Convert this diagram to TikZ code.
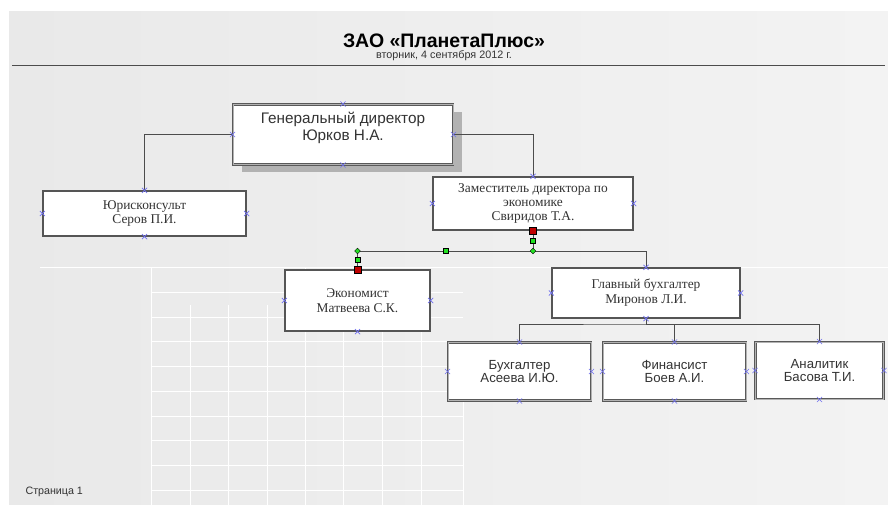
\documentclass[tikz,border=0pt]{standalone}
\usepackage{fontspec}
\setmainfont{Liberation Serif}
\setsansfont{Liberation Sans}
\usetikzlibrary{shapes.misc,shapes.geometric,shadows,calc}

\definecolor{pagegray}{HTML}{EBEBEB}
\definecolor{edgegray}{HTML}{555555}
\definecolor{wireblue}{HTML}{7070F0}
\definecolor{handlegreen}{HTML}{22E022}

\begin{document}
\begin{tikzpicture}[x=1pt,y=-1pt,
  post/.style={draw=edgegray,line width=1.3pt,fill=white,inner sep=0pt,text=black!80,
    align=center,font=\fontsize{13.4}{14.8}\selectfont},
  heavy/.style={post,draw=black!65,double=black!30,double distance=0.9pt,
    line width=0.9pt,font=\sffamily\fontsize{13.2}{13.8}\selectfont},
  conn/.style={draw=black!70,line width=0.8pt},
  cpt/.style={cross out,draw=wireblue,minimum size=4.5pt,inner sep=0pt,line width=0.6pt},
  grip/.style={rectangle,draw=black,fill=handlegreen,minimum size=5pt,inner sep=0pt,line width=0.4pt},
  pin/.style={diamond,draw=black,fill=handlegreen,minimum size=6pt,inner sep=0pt,line width=0.4pt},
  endgrip/.style={rectangle,draw=black,fill=red!75!black,minimum size=7pt,inner sep=0pt,line width=0.6pt},
  gridline/.style={draw=white,line width=1pt}
]
  \useasboundingbox (0,0) rectangle (888,505);
  \fill[white] (0,0) rectangle (888,505);
  \shade[left color=pagegray!110,right color=pagegray!60] (9,12) rectangle (888,505);

  % background grid
  \draw[gridline] (40,267) -- (888,267);
  \draw[gridline] (151,267) -- (151,505);
  \draw[gridline] (463,380) -- (463,505);
  \foreach \gy in {292,317,341,366,391,416,440,465,490}
    \draw[gridline] (151,\gy) -- (463,\gy);
  \foreach \gx in {190,228,267,343,382,421}
    \draw[gridline] (\gx,305) -- (\gx,505);
  \draw[gridline] (305,267) -- (305,505);

  % header
  \node[font=\sffamily\bfseries\fontsize{19.5}{22}\selectfont] (title) at (444,41) {ЗАО «ПланетаПлюс»};
  \node[font=\sffamily\fontsize{10.8}{12}\selectfont,text=black!80] (date) at (444,56) {вторник, 4 сентября 2012 г.};
  \draw[black!70,line width=1pt] (12,66) -- (885,66);
  \node[font=\sffamily\fontsize{10.7}{12}\selectfont,text=black!80,anchor=west] (pagenum) at (22,492) {Страница 1};

  % units
  \node[heavy,minimum width=220pt,minimum height=60pt,text depth=16pt,
    font=\sffamily\fontsize{15.3}{16.5}\selectfont,
    drop shadow={shadow xshift=9pt,shadow yshift=-8pt,fill=black!30,opacity=1}]
    (gen) at (343,134.5) {Генеральный директор\\Юрков Н.А.};
  \node[post,minimum width=203pt,minimum height=45pt] (jur) at (144.5,213.5) {Юрисконсульт\\Серов П.И.};
  \node[post,minimum width=200pt,minimum height=53pt,font=\fontsize{13.4}{14}\selectfont] (dep) at (533,203.5) {Заместитель директора по\\экономике\\Свиридов Т.А.};
  \node[post,minimum width=145pt,minimum height=61pt] (eco) at (357.5,300.5) {Экономист\\Матвеева С.К.};
  \node[post,minimum width=188pt,minimum height=50pt] (chief) at (646,293) {Главный бухгалтер\\Миронов Л.И.};
  \node[heavy,minimum width=143pt,minimum height=58pt] (acc) at (519.5,371.5) {Бухгалтер\\Асеева И.Ю.};
  \node[heavy,minimum width=143pt,minimum height=58pt] (fin) at (674.5,371.5) {Финансист\\Боев А.И.};
  \node[heavy,minimum width=128pt,minimum height=57pt] (ana) at (819.5,370.5) {Аналитик\\Басова Т.И.};

  % links
  \coordinate (fork) at (533,251);
  \coordinate (bus) at (646,324);
  \draw[conn] (gen.west) -| (jur.north);
  \draw[conn] (gen.east) -| (dep.north);
  \draw[conn] (dep.south) -- (fork) -| (eco.north);
  \draw[conn] (fork) -| (chief.north);
  \draw[conn] (chief.south) -- (bus);
  \draw[conn] (acc.north) |- (bus) -| (fin.north);
  \draw[conn] (bus) -| (ana.north);

  % connection points
  \foreach \n in {gen,jur,chief,acc,fin,ana}
    \foreach \a in {north,south,east,west}
      \node[cpt] at (\n.\a) {};
  \foreach \a in {north,east,west} \node[cpt] at (dep.\a) {};
  \foreach \a in {south,east,west} \node[cpt] at (eco.\a) {};

  % handles of the selected link
  \node[endgrip] at (dep.south) {};
  \node[endgrip] at (eco.north) {};
  \node[grip] at ($(dep.south)!0.5!(fork)$) {};
  \node[pin] at (fork) {};
  \node[grip] at ($(fork)!0.5!(fork -| eco.north)$) {};
  \node[pin] at (fork -| eco.north) {};
  \node[grip] at ($(fork -| eco.north)!0.5!(eco.north)$) {};
\end{tikzpicture}
\end{document}
